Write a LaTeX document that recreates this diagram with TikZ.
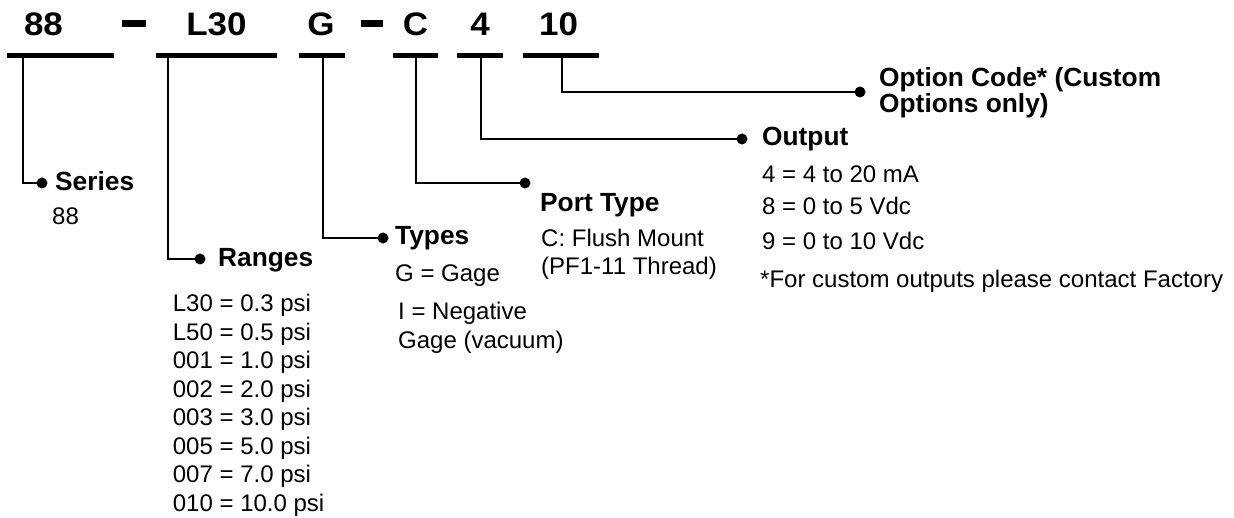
\documentclass[tikz,border=0pt]{standalone}
\usepackage{fontspec}
\setmainfont{Liberation Sans}
\newcommand{\codetext}[1]{\scalebox{1}[0.93]{#1}}
\begin{document}
\begin{tikzpicture}[x=1pt,y=-1pt,
  code/.style={inner sep=0pt,anchor=base,font=\fontsize{35}{36}\selectfont\bfseries},
  bar/.style={fill=black,draw=none,inner sep=0pt,minimum height=5pt,anchor=north west},
  dashbar/.style={fill=black,draw=none,inner sep=0pt,minimum height=7.5pt,anchor=north west},
  dot/.style={circle,fill=black,inner sep=0pt,minimum size=11pt},
  conn/.style={line width=1.3pt},
  head/.style={inner sep=0pt,anchor=base west,font=\fontsize{26.3}{26}\selectfont\bfseries},
  txt/.style={inner sep=0pt,anchor=base west,font=\fontsize{24}{28.5}\selectfont,align=left}]
\useasboundingbox (0,0) rectangle (1234,518);
% code characters
\node[code] (c88) at (43.5,36) {\codetext{88}};
\node[dashbar,minimum width=24pt] (d1) at (122,19.5) {};
\node[code] (cL30) at (216.5,36) {\codetext{L30}};
\node[code] (cG) at (321,36) {\codetext{G}};
\node[dashbar,minimum width=22pt] (d2) at (361,19.5) {};
\node[code] (cC) at (415.5,36) {\codetext{C}};
\node[code] (c4) at (480,36) {\codetext{4}};
\node[code] (c10) at (558.5,36) {\codetext{10}};
% underline bars
\node[bar,minimum width=107pt] (b1) at (7,52.5) {};
\node[bar,minimum width=121pt] (b2) at (156,52.5) {};
\node[bar,minimum width=46pt] (b3) at (299,52.5) {};
\node[bar,minimum width=45pt] (b4) at (393,52.5) {};
\node[bar,minimum width=46pt] (b5) at (457,52.5) {};
\node[bar,minimum width=76pt] (b6) at (523,52.5) {};
% dots
\node[dot] (p1) at (42,183) {};
\node[dot] (p2) at (200,259) {};
\node[dot] (p3) at (383,238) {};
\node[dot] (p4) at (525,183) {};
\node[dot] (p5) at (742,139) {};
\node[dot] (p6) at (860,92) {};
% connectors
\draw[conn] ([xshift=16pt]b1.south west) |- (p1.center);
\draw[conn] ([xshift=12pt]b2.south west) |- (p2.center);
\draw[conn] ([xshift=24pt]b3.south west) |- (p3.center);
\draw[conn] ([xshift=23pt]b4.south west) |- (p4.center);
\draw[conn] ([xshift=24pt]b5.south west) |- (p5.center);
\draw[conn] ([xshift=39pt]b6.south west) |- (p6.center);
% labels
\node[head] (hSeries) at (55,191) {Series};
\node[txt] (tSeries) at (52,225) {88};
\node[head] (hRanges) at (218,267) {Ranges};
\node[txt,anchor=north west,text depth=0pt] (tRanges) at (172.7,294) {L30 = 0.3 psi\\L50 = 0.5 psi\\001 = 1.0 psi\\002 = 2.0 psi\\003 = 3.0 psi\\005 = 5.0 psi\\007 = 7.0 psi\\010 = 10.0 psi};
\node[head] (hTypes) at (395,245) {Types};
\node[txt] (tTypes1) at (395,282) {G = Gage};
\node[txt] (tTypes2) at (398,320) {I = Negative};
\node[txt] (tTypes3) at (398,349) {Gage (vacuum)};
\node[head] (hPort) at (540,212) {Port Type};
\node[txt] (tPort1) at (541,247) {C: Flush Mount};
\node[txt] (tPort2) at (541,275) {(PF1-11 Thread)};
\node[head] (hOut) at (762,146) {Output};
\node[txt] (tOut1) at (762,183) {4 = 4 to 20 mA};
\node[txt] (tOut2) at (762,215) {8 = 0 to 5 Vdc};
\node[txt] (tOut3) at (762,250) {9 = 0 to 10 Vdc};
\node[txt] (tOut4) at (760,288) {*For custom outputs please contact Factory};
\node[head] (hOpt1) at (879,87) {Option Code* (Custom};
\node[head] (hOpt2) at (879,113) {Options only)};
\end{tikzpicture}
\end{document}
